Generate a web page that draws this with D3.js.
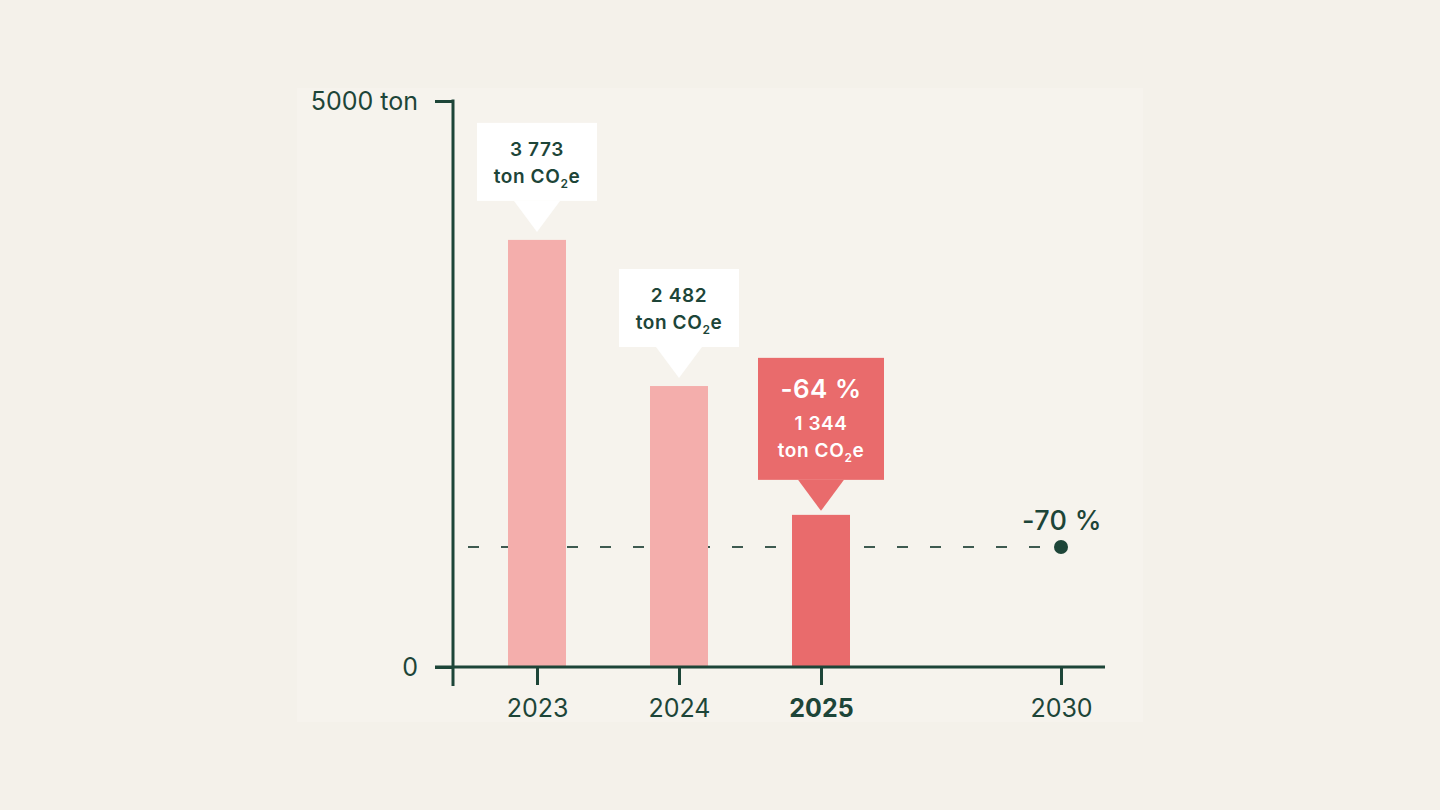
<!DOCTYPE html>
<html>
<head>
<meta charset="utf-8">
<script src="https://cdn.jsdelivr.net/npm/d3@7"></script>
<style>
  html, body { margin: 0; padding: 0; background: #f4f1ea; }
  svg { display: block; font-family: Inter, "Open Sans", sans-serif; }
</style>
</head>
<body>
<svg id="chart" width="1440" height="810"></svg>
<script>
// Data
const years = [2023, 2024, 2025];
const emissions = [3773, 2482, 1344];
const valueLabels = ["3 773", "2 482", "1 344"];
const targetYear = 2030;
const targetValue = 1060;
const targetLabel = "-70 %";
const changeLabel = "-64 %";
const axisYears = [2023, 2024, 2025, 2030];
const yMax = 5000;

const colors = { panel: "#f6f3ed", axis: "#1d4538", bar: "#f4aeac", highlight: "#e96b6c", dash: "#3e5a50" };
const font = "Inter, 'Open Sans', sans-serif";

const svg = d3.select("#chart");

// faint panel behind the chart
svg.append("rect")
    .attr("x", 297).attr("y", 88)
    .attr("width", 846).attr("height", 634)
    .attr("fill", colors.panel);

// Scales (x is broken: 2025 -> 2030 is compressed)
const x = d3.scaleLinear()
    .domain([2023, 2025, 2030])
    .range([537, 821, 1061]);

const y = d3.scaleLinear()
    .domain([0, yMax])
    .range([667, 101]);

const barWidth = 58;

// dashed target line (behind bars)
svg.append("line")
    .attr("x1", 468).attr("x2", x(targetYear))
    .attr("y1", y(targetValue)).attr("y2", y(targetValue))
    .attr("stroke", colors.dash)
    .attr("stroke-width", 2)
    .attr("stroke-dasharray", "11,22");

// bars
const barData = years.map((yr, i) => ({ year: yr, value: emissions[i], label: valueLabels[i], last: i === years.length - 1 }));

svg.selectAll("rect.bar")
    .data(barData)
    .enter().append("rect")
    .attr("class", "bar")
    .attr("x", d => x(d.year) - barWidth / 2)
    .attr("y", d => y(d.value))
    .attr("width", barWidth)
    .attr("height", d => y(0) - y(d.value))
    .attr("fill", d => d.last ? colors.highlight : colors.bar);

// callouts
barData.forEach(d => {
    const cx = x(d.year);
    const top = y(d.value);
    const tip = top - (d.last ? 4 : 8);
    const base = tip - 31;
    const g = svg.append("g");
    const fill = d.last ? colors.highlight : "#ffffff";
    const txt = d.last ? "#ffffff" : colors.axis;
    const w = d.last ? 126 : 120;
    const h = d.last ? 122 : 78;

    g.append("rect")
        .attr("x", cx - w / 2).attr("y", base - h)
        .attr("width", w).attr("height", h)
        .attr("fill", fill);
    g.append("path")
        .attr("d", `M${cx - 23},${base} L${cx + 23},${base} L${cx},${tip} Z`)
        .attr("fill", fill);

    let ty = base - h + 33;
    if (d.last) {
        g.append("text")
            .attr("x", cx).attr("y", base - h + 40)
            .attr("text-anchor", "middle")
            .attr("fill", txt)
            .attr("font-size", 26)
            .attr("font-weight", 600)
            .attr("letter-spacing", 0.5)
            .text(changeLabel);
        ty = base - h + 72;
    }
    g.append("text")
        .attr("x", cx).attr("y", ty)
        .attr("text-anchor", "middle")
        .attr("fill", txt)
        .attr("font-size", 19)
        .attr("font-weight", 600)
        .attr("letter-spacing", 0.6)
        .text(d.label);
    const t2 = g.append("text")
        .attr("x", cx).attr("y", ty + 27)
        .attr("text-anchor", "middle")
        .attr("fill", txt)
        .attr("font-size", 19)
        .attr("font-weight", 600)
        .attr("letter-spacing", 0.6);
    t2.append("tspan").text("ton CO");
    t2.append("tspan").attr("font-size", 12).attr("dy", 5).text("2");
    t2.append("tspan").attr("dy", -5).text("e");
});

// target point
svg.append("circle")
    .attr("cx", x(targetYear)).attr("cy", y(targetValue))
    .attr("r", 7)
    .attr("fill", colors.axis);

svg.append("text")
    .attr("x", x(targetYear) + 1).attr("y", y(targetValue) - 17)
    .attr("text-anchor", "middle")
    .attr("fill", colors.axis)
    .attr("font-size", 27)
    .attr("font-weight", 500)
    .attr("letter-spacing", 0.3)
    .text(targetLabel);

// x axis
const xAxis = svg.append("g")
    .attr("transform", "translate(0," + y(0) + ")")
    .call(d3.axisBottom(x).tickValues(axisYears).tickFormat(d3.format("d")).tickSize(18).tickPadding(14));
xAxis.select(".domain").remove();
xAxis.selectAll(".tick line").attr("stroke", colors.axis).attr("stroke-width", 3);
xAxis.selectAll(".tick text")
    .attr("fill", colors.axis)
    .attr("font-size", 25)
    .attr("font-family", font)
    .attr("font-weight", d => d === 2025 ? 700 : 400);

svg.append("line")
    .attr("x1", 435).attr("x2", 1105)
    .attr("y1", y(0)).attr("y2", y(0))
    .attr("stroke", colors.axis).attr("stroke-width", 3);

// y axis
const yAxis = svg.append("g")
    .attr("transform", "translate(453,0)")
    .call(d3.axisLeft(y).tickValues([0, yMax]).tickFormat(d => d === yMax ? yMax + " ton" : d).tickSize(18).tickPadding(17));
yAxis.select(".domain").remove();
yAxis.selectAll(".tick line").attr("stroke", colors.axis).attr("stroke-width", 3);
yAxis.selectAll(".tick text")
    .attr("fill", colors.axis)
    .attr("font-size", 25)
    .attr("font-family", font);

svg.append("line")
    .attr("x1", 453).attr("x2", 453)
    .attr("y1", y(yMax) - 1.5).attr("y2", 686)
    .attr("stroke", colors.axis).attr("stroke-width", 3);
</script>
</body>
</html>
